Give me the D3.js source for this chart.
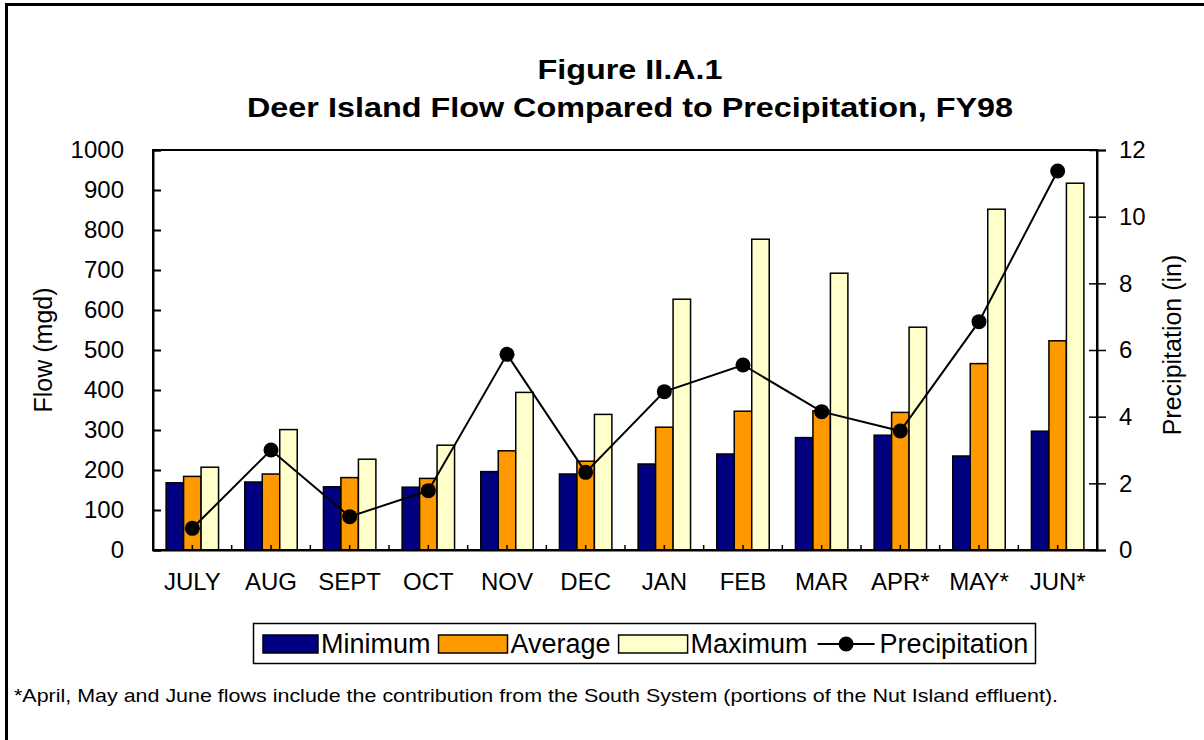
<!DOCTYPE html>
<html>
<head>
<meta charset="utf-8">
<script src="https://cdn.jsdelivr.net/npm/d3@7"></script>
<style>
  body { margin: 0; background: #fff; }
  svg { display: block; font-family: "Liberation Sans", Arial, sans-serif; }
</style>
</head>
<body>
<svg id="chart"></svg>
<script>
// data
const months = ['JULY', 'AUG', 'SEPT', 'OCT', 'NOV', 'DEC', 'JAN', 'FEB', 'MAR', 'APR*', 'MAY*', 'JUN*']
const minimum = [168, 170, 158, 157, 196, 190, 215, 240, 281, 287, 235, 297]
const average = [184, 190, 181, 179, 248, 222, 307, 347, 348, 344, 466, 523]
const maximum = [207, 301, 227, 262, 394, 339, 627, 777, 692, 557, 852, 917]
const precipitation = [0.65, 3.0, 1.0, 1.78, 5.87, 2.33, 4.75, 5.55, 4.15, 3.57, 6.85, 11.37]

const barSeries = ['Minimum', 'Average', 'Maximum']
const barColors = ['#000080', '#FF9900', '#FFFFCC']
const flowTicks = [0, 100, 200, 300, 400, 500, 600, 700, 800, 900, 1000]
const precipTicks = [0, 2, 4, 6, 8, 10, 12]

const width = 1204
const height = 740
const margin = {top: 150, right: 107, bottom: 190, left: 153}
const plotW = width - margin.left - margin.right
const plotH = height - margin.top - margin.bottom

const svg = d3.select('#chart')
    .attr('width', width)
    .attr('height', height)

// outer frame (right and bottom edges fall outside the picture)
svg.append('rect')
    .attr('x', 6.5).attr('y', 4.5)
    .attr('width', 1400).attr('height', 1000)
    .attr('fill', 'none')
    .attr('stroke', 'black')
    .attr('stroke-width', 3)

// title
const title = svg.append('g')
    .attr('font-weight', 'bold')
    .attr('font-size', '28px')
    .attr('text-anchor', 'middle')
title.append('text')
    .attr('x', 630).attr('y', 79)
    .attr('textLength', 185).attr('lengthAdjust', 'spacingAndGlyphs')
    .text('Figure II.A.1')
title.append('text')
    .attr('x', 630).attr('y', 117)
    .attr('textLength', 766).attr('lengthAdjust', 'spacingAndGlyphs')
    .text('Deer Island Flow Compared to Precipitation, FY98')

const g = svg.append('g')
    .attr('transform', 'translate(' + margin.left + ',' + margin.top + ')')

const x = d3.scaleBand()
    .domain(months)
    .range([0, plotW])
    .paddingInner(1 / 3)
    .paddingOuter(1 / 6)

const xs = d3.scaleBand()
    .domain(barSeries)
    .range([0, x.bandwidth()])

const y = d3.scaleLinear().domain([0, 1000]).range([plotH, 0])
const y2 = d3.scaleLinear().domain([0, 12]).range([plotH, 0])

// bars
const groups = g.selectAll('.month')
    .data(months)
    .enter().append('g')
    .attr('transform', d => 'translate(' + x(d) + ',0)')

const seriesValues = [minimum, average, maximum]
groups.selectAll('rect')
    .data((d, i) => barSeries.map((s, k) => ({series: s, k: k, value: seriesValues[k][i]})))
    .enter().append('rect')
    .attr('x', d => xs(d.series))
    .attr('width', xs.bandwidth())
    .attr('y', d => y(d.value))
    .attr('height', d => plotH - y(d.value))
    .attr('fill', d => barColors[d.k])
    .attr('stroke', 'black')
    .attr('stroke-width', 1.5)

// plot frame
g.append('rect')
    .attr('width', plotW).attr('height', plotH)
    .attr('fill', 'none')
    .attr('stroke', 'black')
    .attr('stroke-width', 2)

// left axis
const leftAxis = g.append('g')
    .call(d3.axisLeft(y).tickValues(flowTicks).tickFormat(d3.format('d')).tickSize(-8).tickPadding(29))
leftAxis.select('.domain').attr('stroke-width', 2)
leftAxis.selectAll('line').attr('stroke-width', 2)
leftAxis.selectAll('text').attr('font-size', '24px').attr('fill', 'black')

// right axis
const rightAxis = g.append('g')
    .attr('transform', 'translate(' + plotW + ',0)')
    .call(d3.axisRight(y2).tickValues(precipTicks).tickSize(9).tickPadding(13))
rightAxis.select('.domain').attr('stroke-width', 2)
rightAxis.selectAll('.tick line').attr('x1', -8).attr('stroke-width', 1.5)
rightAxis.selectAll('text').attr('font-size', '24px').attr('fill', 'black')

// bottom axis: labels, plus small inward ticks at boundaries and centres
const bottomAxis = g.append('g')
    .attr('transform', 'translate(0,' + plotH + ')')
    .call(d3.axisBottom(x).tickSize(0).tickPadding(23))
bottomAxis.select('.domain').attr('stroke-width', 2)
bottomAxis.selectAll('text').attr('font-size', '24px').attr('fill', 'black')

const step = x.step()
const tickPos = d3.range(1, months.length).map(i => i * step)
    .concat(months.map(m => x(m) + x.bandwidth() / 2))
g.append('g').selectAll('line')
    .data(tickPos)
    .enter().append('line')
    .attr('x1', d => d).attr('x2', d => d)
    .attr('y1', plotH).attr('y2', plotH - 5)
    .attr('stroke', 'black')
    .attr('stroke-width', 1.5)

// precipitation line
const cx = (d, i) => x(months[i]) + x.bandwidth() / 2
g.append('path')
    .datum(precipitation)
    .attr('fill', 'none')
    .attr('stroke', 'black')
    .attr('stroke-width', 2)
    .attr('d', d3.line().x(cx).y(d => y2(d)))
g.selectAll('.dot')
    .data(precipitation)
    .enter().append('circle')
    .attr('cx', cx)
    .attr('cy', d => y2(d))
    .attr('r', 7.5)
    .attr('fill', 'black')

// axis titles
svg.append('text')
    .attr('transform', 'translate(52,350) rotate(-90)')
    .attr('text-anchor', 'middle')
    .attr('font-size', '25px')
    .text('Flow (mgd)')
svg.append('text')
    .attr('transform', 'translate(1181,345) rotate(-90)')
    .attr('text-anchor', 'middle')
    .attr('font-size', '25px')
    .text('Precipitation (in)')

// legend
const legend = svg.append('g')
legend.append('rect')
    .attr('x', 253.5).attr('y', 623.5)
    .attr('width', 782).attr('height', 40)
    .attr('fill', 'white')
    .attr('stroke', 'black')
    .attr('stroke-width', 1.5)

const swatchW = [55, 69, 69]
let lx = 263
barSeries.forEach((s, k) => {
    legend.append('rect')
        .attr('x', lx).attr('y', 635)
        .attr('width', swatchW[k]).attr('height', 18)
        .attr('fill', barColors[k])
        .attr('stroke', 'black')
        .attr('stroke-width', 1.5)
    const t = legend.append('text')
        .attr('x', lx + swatchW[k] + 3).attr('y', 653)
        .attr('font-size', '27px')
        .text(s)
    lx += swatchW[k] + 3 + t.node().getComputedTextLength() + 8
})
lx += 2
legend.append('line')
    .attr('x1', lx).attr('x2', lx + 57)
    .attr('y1', 644).attr('y2', 644)
    .attr('stroke', 'black')
    .attr('stroke-width', 2)
legend.append('circle')
    .attr('cx', lx + 28.5).attr('cy', 644)
    .attr('r', 7.5)
    .attr('fill', 'black')
legend.append('text')
    .attr('x', lx + 62).attr('y', 653)
    .attr('font-size', '27px')
    .text('Precipitation')

// footnote
svg.append('text')
    .attr('x', 14).attr('y', 702)
    .attr('font-size', '19px')
    .attr('textLength', 1044).attr('lengthAdjust', 'spacingAndGlyphs')
    .text('*April, May and June flows include the contribution from the South System (portions of the Nut Island effluent).')
</script>
</body>
</html>
